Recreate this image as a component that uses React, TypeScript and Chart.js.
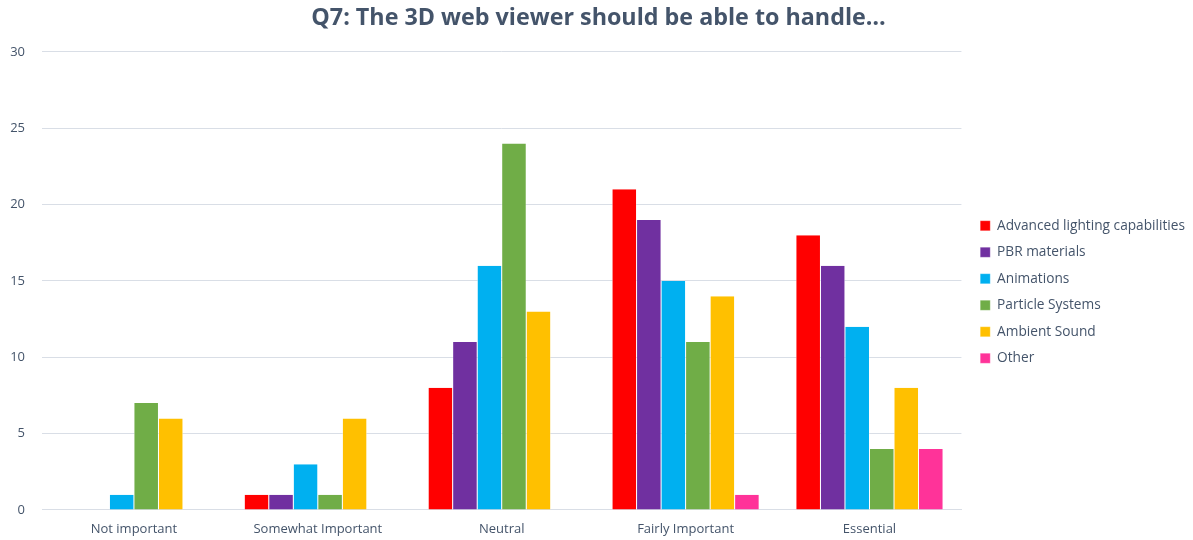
import React, { useEffect, useRef } from "react";
import { Chart, registerables } from "chart.js";

Chart.register(...registerables);

const categories = ["Not important", "Somewhat Important", "Neutral", "Fairly Important", "Essential"];
const seriesNames = ["Advanced lighting capabilities", "PBR materials", "Animations", "Particle Systems", "Ambient Sound", "Other"];
const advancedLighting = [0, 1, 8, 21, 18];
const pbrMaterials = [0, 1, 11, 19, 16];
const animations = [1, 3, 16, 15, 12];
const particleSystems = [7, 1, 24, 11, 4];
const ambientSound = [6, 6, 13, 14, 8];
const other = [0, 0, 0, 1, 4];
const seriesColors = ["#FF0000", "#7030A0", "#00B0F0", "#70AD47", "#FFC000", "#FF3399"];
const yTicks = [0, 5, 10, 15, 20, 25, 30];

const FONT = "'Open Sans', 'Noto Sans', sans-serif";

const shiftBoxes = {
  id: "shiftBoxes",
  afterLayout(chart: any) {
    const lg = chart.legend;
    if (lg) {
      const dx = 6;
      const dy = 22;
      lg.left += dx;
      lg.right += dx;
      lg.top += dy;
      lg.bottom += dy;
    }
    const tb = chart.titleBlock;
    if (tb) {
      tb.left += 4;
      tb.right += 4;
    }
  },
};

export default function App() {
  const ref = useRef<HTMLCanvasElement | null>(null);
  useEffect(() => {
    document.body.style.margin = "0";
    const values = [advancedLighting, pbrMaterials, animations, particleSystems, ambientSound, other];
    const chart = new Chart(ref.current!, {
      type: "bar",
      data: {
        labels: categories,
        datasets: seriesNames.map((name, i) => ({
          label: name,
          data: values[i],
          backgroundColor: seriesColors[i],
          borderColor: "#ffffff",
          borderWidth: { left: 0.5, right: 0.5, top: 0, bottom: 0 },
          barPercentage: 1,
          categoryPercentage: 0.8,
        })),
      },
      plugins: [shiftBoxes],
      options: {
        animation: false,
        responsive: false,
        maintainAspectRatio: false,
        layout: { padding: { left: 0, right: 4, top: 0, bottom: 0 } },
        plugins: {
          title: {
            display: true,
            text: "Q7: The 3D web viewer should be able to handle…",
            color: "#44546A",
            font: { family: FONT, size: 23.3, weight: "bold" },
            padding: { top: 4, bottom: 20 },
          },
          legend: {
            position: "right",
            align: "center",
            labels: {
              color: "#44546A",
              font: { family: FONT, size: 13.7 },
              boxWidth: 10,
              boxHeight: 10,
              padding: 12.8,
            },
          },
          tooltip: { enabled: false },
        },
        scales: {
          x: {
            grid: { display: false, drawTicks: false },
            border: { color: "#D9DEE6" },
            ticks: { color: "#44546A", font: { family: FONT, size: 13 }, padding: 11 },
            afterFit: (axis: any) => {
              axis.height = 30;
            },
          },
          y: {
            min: 0,
            max: 30,
            afterBuildTicks: (axis: any) => {
              axis.ticks = yTicks.map((v) => ({ value: v }));
            },
            afterFit: (axis: any) => {
              axis.width = 42;
            },
            grid: { color: "#D9DEE6", drawTicks: false },
            border: { display: false },
            ticks: { color: "#44546A", font: { family: FONT, size: 13 }, padding: 17 },
          },
        },
      },
    });
    return () => chart.destroy();
  }, []);
  return (
    <div style={{ width: 1193, height: 540 }}>
      <canvas ref={ref} width={1193} height={540} style={{ width: 1193, height: 540, display: "block" }} />
    </div>
  );
}
